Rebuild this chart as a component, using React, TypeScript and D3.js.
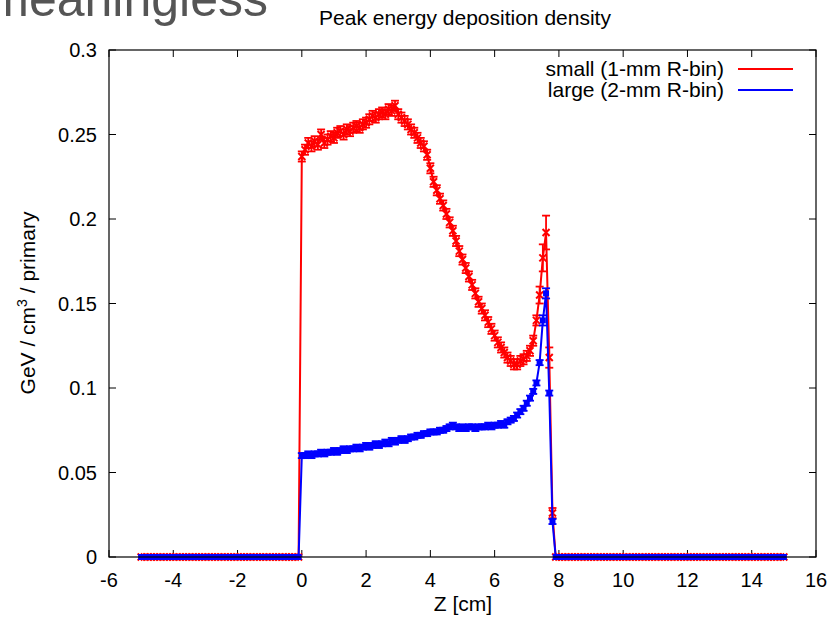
import React, { useEffect, useRef } from "react";
import * as d3 from "d3";

// bins every 0.1 cm, from z = -5.0 to z = 15.0
const zFirst = -5;
const zStep = 0.1;

// small (1-mm R-bin), GeV / cm3 / primary
const smallValues = [
  0, 0, 0, 0, 0, 0, 0, 0, 0, 0,
  0, 0, 0, 0, 0, 0, 0, 0, 0, 0,
  0, 0, 0, 0, 0, 0, 0, 0, 0, 0,
  0, 0, 0, 0, 0, 0, 0, 0, 0, 0,
  0, 0, 0, 0, 0, 0, 0, 0, 0, 0,
  // z = 0.0 .. 7.8
  0.237, 0.241, 0.245, 0.243, 0.246, 0.244, 0.25, 0.245, 0.247, 0.249,
  0.248, 0.251, 0.252, 0.25, 0.253, 0.252, 0.254, 0.255, 0.254, 0.256,
  0.257, 0.259, 0.261, 0.26, 0.262, 0.263, 0.262, 0.265, 0.264, 0.267,
  0.262, 0.26, 0.258, 0.256, 0.253, 0.251, 0.248, 0.245, 0.243, 0.238,
  0.23, 0.222, 0.217, 0.212, 0.208, 0.203, 0.198, 0.193, 0.187, 0.181,
  0.176, 0.171, 0.166, 0.161, 0.156, 0.151, 0.147, 0.143, 0.139, 0.135,
  0.131, 0.127, 0.124, 0.121, 0.118, 0.116, 0.114, 0.114, 0.116, 0.117,
  0.119, 0.122, 0.128, 0.14, 0.155, 0.177, 0.192, 0.118, 0.026,
  // z = 7.9 .. 15.0
  0, 0, 0, 0, 0, 0, 0, 0, 0, 0,
  0, 0, 0, 0, 0, 0, 0, 0, 0, 0,
  0, 0, 0, 0, 0, 0, 0, 0, 0, 0,
  0, 0, 0, 0, 0, 0, 0, 0, 0, 0,
  0, 0, 0, 0, 0, 0, 0, 0, 0, 0,
  0, 0, 0, 0, 0, 0, 0, 0, 0, 0,
  0, 0, 0, 0, 0, 0, 0, 0, 0, 0,
  0, 0,
];

// large (2-mm R-bin)
const largeValues = [
  0, 0, 0, 0, 0, 0, 0, 0, 0, 0,
  0, 0, 0, 0, 0, 0, 0, 0, 0, 0,
  0, 0, 0, 0, 0, 0, 0, 0, 0, 0,
  0, 0, 0, 0, 0, 0, 0, 0, 0, 0,
  0, 0, 0, 0, 0, 0, 0, 0, 0, 0,
  // z = 0.0 .. 7.8
  0.06, 0.06, 0.061, 0.06, 0.061, 0.061, 0.062, 0.061, 0.062, 0.062,
  0.063, 0.062, 0.063, 0.064, 0.063, 0.064, 0.064, 0.065, 0.064, 0.065,
  0.066, 0.065, 0.066, 0.067, 0.066, 0.067, 0.068, 0.067, 0.069, 0.068,
  0.069, 0.07, 0.069, 0.07, 0.071, 0.071, 0.072, 0.072, 0.073, 0.073,
  0.074, 0.074, 0.074, 0.075, 0.075, 0.076, 0.077, 0.078, 0.077, 0.076,
  0.077, 0.076, 0.077, 0.077, 0.076, 0.077, 0.077, 0.077, 0.078, 0.077,
  0.078, 0.078, 0.079, 0.078, 0.08, 0.081, 0.082, 0.084, 0.086, 0.088,
  0.091, 0.094, 0.098, 0.103, 0.115, 0.14, 0.156, 0.097, 0.021,
  // z = 7.9 .. 15.0
  0, 0, 0, 0, 0, 0, 0, 0, 0, 0,
  0, 0, 0, 0, 0, 0, 0, 0, 0, 0,
  0, 0, 0, 0, 0, 0, 0, 0, 0, 0,
  0, 0, 0, 0, 0, 0, 0, 0, 0, 0,
  0, 0, 0, 0, 0, 0, 0, 0, 0, 0,
  0, 0, 0, 0, 0, 0, 0, 0, 0, 0,
  0, 0, 0, 0, 0, 0, 0, 0, 0, 0,
  0, 0,
];

// statistical errors: typical value and the larger ones near the peak
const smallErrTypical = 0.003;
const largeErrTypical = 0.0015;
const smallErrPeak = [
  { z: 7.4, err: 0.005 },
  { z: 7.5, err: 0.008 },
  { z: 7.6, err: 0.01 },
  { z: 7.7, err: 0.006 },
];
const largeErrPeak = [
  { z: 7.5, err: 0.003 },
  { z: 7.6, err: 0.003 },
];

const xTicks = [-6, -4, -2, 0, 2, 4, 6, 8, 10, 12, 14, 16];
const yTicks = [0, 0.05, 0.1, 0.15, 0.2, 0.25, 0.3];
const yTickLabels = ["0", "0.05", "0.1", "0.15", "0.2", "0.25", "0.3"];

const seriesNames = ["small (1-mm R-bin)", "large (2-mm R-bin)"];
const seriesColors = ["#ff0000", "#0000ff"];

const W = 832;
const H = 624;
const margin = { top: 50, right: 16, bottom: 67, left: 109 };
const font = "'Liberation Sans', Arial, Helvetica, sans-serif";

const App = () => {
  const svgRef = useRef<SVGSVGElement>(null);

  useEffect(() => {
    const svg = d3.select(svgRef.current);
    svg.selectAll("*").remove();

    const x = d3
      .scaleLinear()
      .domain([-6, 16])
      .range([margin.left, W - margin.right]);
    const y = d3
      .scaleLinear()
      .domain([0, 0.3])
      .range([H - margin.bottom, margin.top]);

    const toPoints = (vals: number[], typical: number, peak: { z: number; err: number }[]) =>
      vals.map((v, i) => {
        const z = +(zFirst + i * zStep).toFixed(1);
        const p = peak.find((d) => Math.abs(d.z - z) < 1e-6);
        return { z, v, err: v === 0 ? 0 : p ? p.err : typical };
      });

    const series = [
      toPoints(smallValues, smallErrTypical, smallErrPeak),
      toPoints(largeValues, largeErrTypical, largeErrPeak),
    ];

    // slide text cut off at the top
    svg
      .append("text")
      .attr("x", 268)
      .attr("y", 16)
      .attr("text-anchor", "end")
      .style("font-family", font)
      .style("font-size", "50px")
      .attr("fill", "#555555")
      .text("meaningless");

    // title
    svg
      .append("text")
      .attr("x", 465)
      .attr("y", 25)
      .attr("text-anchor", "middle")
      .style("font-family", font)
      .style("font-size", "21px")
      .text("Peak energy deposition density");

    const plot = svg.append("g");
    const [x0, x1] = x.range();
    const [y0, y1] = y.range();

    // ticks (inside, mirrored)
    const tickLen = 7;
    xTicks.forEach((t) => {
      plot.append("line").attr("x1", x(t)).attr("x2", x(t)).attr("y1", y0).attr("y2", y0 - tickLen).attr("stroke", "#000");
      plot.append("line").attr("x1", x(t)).attr("x2", x(t)).attr("y1", y1).attr("y2", y1 + tickLen).attr("stroke", "#000");
      svg
        .append("text")
        .attr("x", x(t))
        .attr("y", 587)
        .attr("text-anchor", "middle")
        .style("font-family", font)
        .style("font-size", "20px")
        .text(t);
    });
    yTicks.forEach((t, i) => {
      plot.append("line").attr("x1", x0).attr("x2", x0 + tickLen).attr("y1", y(t)).attr("y2", y(t)).attr("stroke", "#000");
      plot.append("line").attr("x1", x1).attr("x2", x1 - tickLen).attr("y1", y(t)).attr("y2", y(t)).attr("stroke", "#000");
      svg
        .append("text")
        .attr("x", 97)
        .attr("y", y(t) + 7)
        .attr("text-anchor", "end")
        .style("font-family", font)
        .style("font-size", "20px")
        .text(yTickLabels[i]);
    });

    // data: lines, error bars, point markers
    series.forEach((pts, si) => {
      const color = seriesColors[si];
      const g = plot.append("g");
      g.append("path")
        .datum(pts)
        .attr("fill", "none")
        .attr("stroke", color)
        .attr("stroke-width", 2)
        .attr(
          "d",
          d3
            .line<{ z: number; v: number }>()
            .x((d) => x(d.z))
            .y((d) => y(d.v))
        );

      const cap = 4;
      pts.forEach((d) => {
        const cx = x(d.z);
        const cy = y(d.v);
        if (d.err > 0) {
          const lo = y(d.v - d.err);
          const hi = y(d.v + d.err);
          g.append("line").attr("x1", cx).attr("x2", cx).attr("y1", lo).attr("y2", hi).attr("stroke", color).attr("stroke-width", 1.8);
          g.append("line").attr("x1", cx - cap).attr("x2", cx + cap).attr("y1", lo).attr("y2", lo).attr("stroke", color).attr("stroke-width", 1.8);
          g.append("line").attr("x1", cx - cap).attr("x2", cx + cap).attr("y1", hi).attr("y2", hi).attr("stroke", color).attr("stroke-width", 1.8);
        }
        if (si === 0) {
          const s = 3.5;
          g.append("path")
            .attr("d", `M${cx - s},${cy - s}L${cx + s},${cy + s}M${cx - s},${cy + s}L${cx + s},${cy - s}`)
            .attr("stroke", color)
            .attr("stroke-width", 2);
        } else {
          g.append("rect")
            .attr("x", cx - 3)
            .attr("y", cy - 3)
            .attr("width", 6)
            .attr("height", 6)
            .attr("fill", color);
        }
      });
    });

    // frame
    plot
      .append("rect")
      .attr("x", x0)
      .attr("y", y1)
      .attr("width", x1 - x0)
      .attr("height", y0 - y1)
      .attr("fill", "none")
      .attr("stroke", "#000")
      .attr("stroke-width", 1.2);

    // legend
    seriesNames.forEach((name, i) => {
      const ly = 69 + i * 21;
      svg
        .append("text")
        .attr("x", 724)
        .attr("y", ly + 7)
        .attr("text-anchor", "end")
        .style("font-family", font)
        .style("font-size", "21px")
        .text(name);
      svg
        .append("line")
        .attr("x1", 738)
        .attr("x2", 793)
        .attr("y1", ly)
        .attr("y2", ly)
        .attr("stroke", seriesColors[i])
        .attr("stroke-width", 2);
    });

    // axis labels
    svg
      .append("text")
      .attr("x", 463)
      .attr("y", 611)
      .attr("text-anchor", "middle")
      .style("font-family", font)
      .style("font-size", "21px")
      .text("Z [cm]");

    const yl = svg
      .append("text")
      .attr("transform", "translate(35,303) rotate(-90)")
      .attr("text-anchor", "middle")
      .style("font-family", font)
      .style("font-size", "21px");
    yl.append("tspan").text("GeV / cm");
    yl.append("tspan").attr("dy", -8).style("font-size", "14px").text("3");
    yl.append("tspan").attr("dy", 8).text(" / primary");
  }, []);

  return (
    <svg
      ref={svgRef}
      width={W}
      height={H}
      style={{ position: "absolute", left: 0, top: 0, background: "#fff" }}
    />
  );
};

export default App;
